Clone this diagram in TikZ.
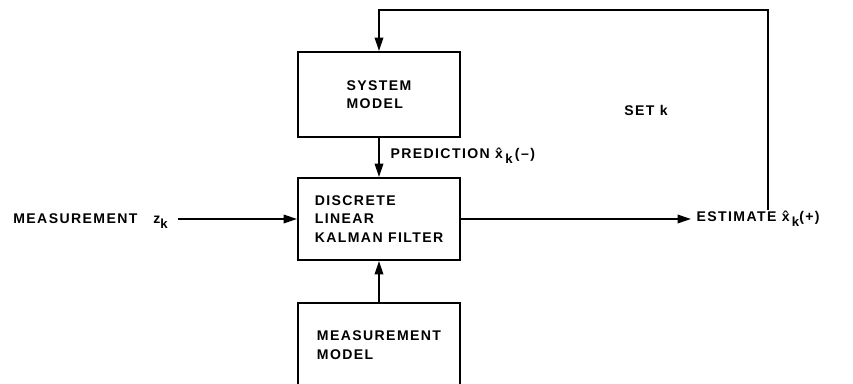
\documentclass[tikz,border=0pt]{standalone}
\usepackage{fontspec}
\usetikzlibrary{positioning,arrows.meta,calc}
\newfontfamily\diagfont[LetterSpace=10]{Liberation Sans}
\newcommand{\subk}{\raisebox{-0.7ex}{\fontsize{7.5}{7.5}\selectfont k}}

\begin{document}
\begin{tikzpicture}[
  x=0.02cm,y=-0.02cm,
  >={Triangle[length=2.7mm,width=1.7mm]},
  txt/.style={font=\diagfont\bfseries\fontsize{8}{10.6}\selectfont,inner sep=0pt},
  block/.style={txt,rectangle,draw,line width=1.1pt,minimum width=3.24cm,
                align=left},
  wire/.style={line width=1.1pt}
]
  \useasboundingbox (0,0) rectangle (853,384);

  % ---------- bloques ----------
  \node[block,minimum height=1.7cm]  (sys) at (379,94.5) {SYSTEM\\MODEL};
  \node[block,minimum height=1.64cm] (kf)  at (379,219)  {DISCRETE\\LINEAR\\KALMAN FILTER};
  \node[block,minimum height=1.68cm] (mm)  at (379,345)  {MEASUREMENT\\MODEL};

  % ---------- etiquetas ----------
  \node[txt,anchor=west] (mz)  at (13,221) {MEASUREMENT\hspace{9pt}z\subk};
  \node[txt,anchor=west] (est) at (691,219) {\hspace{3pt}ESTIMATE \^{x}\,\subk(+)};
  \node[txt] (setk) at (646,110) {SET k};
  \coordinate (msrc) at (178,219);
  \coordinate (tap) at (768,210);
  \coordinate (top) at (768,10);

  % ---------- conexiones ----------
  \draw[wire,->] (msrc) -- (kf.west);
  \draw[wire,->] (kf.east) -- (est.west);
  \draw[wire,->] (tap) -- (top) -| (sys.north);
  \draw[wire,->] (sys.south) -- (kf.north)
    node[txt,midway,anchor=west,xshift=6pt,yshift=1pt] (pred) {PREDICTION \^{x}\,\subk\,(\textendash)};
  \draw[wire,->] (mm.north) -- (kf.south);
\end{tikzpicture}
\end{document}
